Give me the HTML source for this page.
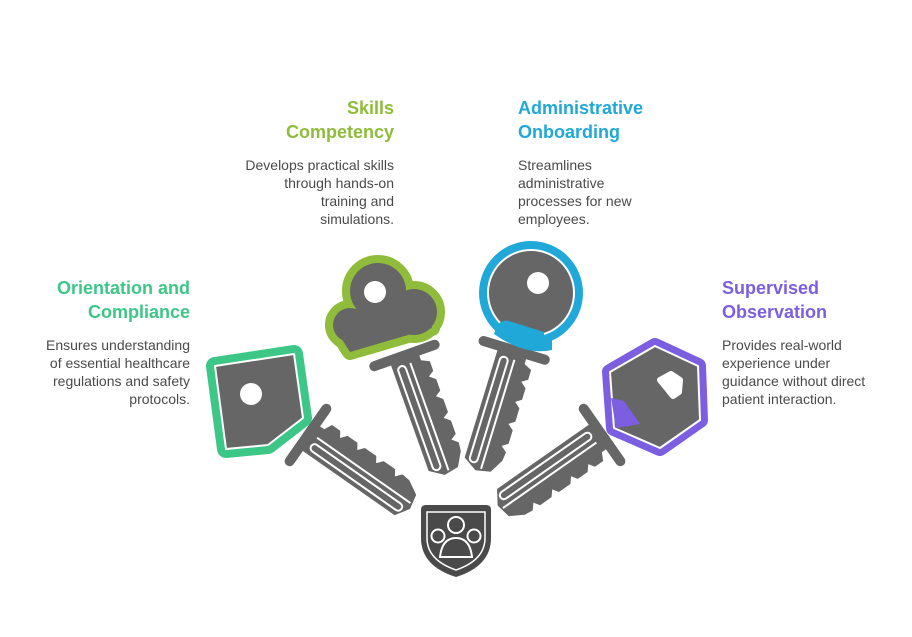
<!DOCTYPE html>
<html><head><meta charset="utf-8"><style>
body{margin:0;background:#fff;}
#c{position:relative;width:912px;height:637px;overflow:hidden;font-family:"Liberation Sans",sans-serif;}
.t{position:absolute;font-weight:bold;font-size:18px;line-height:24px;}
.d{position:absolute;font-size:14px;line-height:18px;color:#4a4a4a;}
.r{text-align:right}
</style></head><body><div id="c">
<div class="t r" style="left:200px;top:96px;width:194px;color:#8fbc3a">Skills<br>Competency</div>
<div class="d r" style="left:200px;top:156px;width:194px">Develops practical skills<br>through hands-on<br>training and<br>simulations.</div>
<div class="t" style="left:518px;top:96px;width:220px;color:#1fa8d8">Administrative<br>Onboarding</div>
<div class="d" style="left:518px;top:156px;width:220px">Streamlines<br>administrative<br>processes for new<br>employees.</div>
<div class="t r" style="left:0px;top:276px;width:190px;color:#3dc787">Orientation and<br>Compliance</div>
<div class="d r" style="left:0px;top:336px;width:190px">Ensures understanding<br>of essential healthcare<br>regulations and safety<br>protocols.</div>
<div class="t" style="left:722px;top:276px;width:190px;color:#7b5fe0">Supervised<br>Observation</div>
<div class="d" style="left:722px;top:336px;width:190px">Provides real-world<br>experience under<br>guidance without direct<br>patient interaction.</div>
<svg width="912" height="637" style="position:absolute;left:0;top:0">
<defs>
<g id="sh">
<rect x="-37" y="56" width="74" height="10" rx="5" fill="#666"/>
<path d="M-16 64 L14 64 L14 71 L22 75 L22 85 L16 89 L22 94 L22 106 L16 110 L22 115 L22 129 L16 133 L22 138 L22 152 L16 156 L22 161 L21 170 L13 184 L-2 187 L-16 178 Z" fill="#666"/>
<rect x="-11" y="70" width="8" height="110" rx="4" fill="none" stroke="#fff" stroke-width="2"/>
<line x1="3" y1="70" x2="3" y2="184" stroke="#fff" stroke-width="2"/>
</g>
</defs>
<use href="#sh" transform="translate(384,298) rotate(-19.6)"/>
<use href="#sh" transform="translate(532,292) rotate(17)"/>
<use href="#sh" transform="translate(258,400) rotate(-55)"/>
<use href="#sh" transform="translate(652,400) rotate(55)"/>
<!-- orientation head -->
<path d="M215 366 L294 354 L303 418 L268 445 L226 449 Z" fill="#3dc787" stroke="#3dc787" stroke-width="18" stroke-linejoin="round"/>
<path d="M215 366 L294 354 L303 418 L268 445 L226 449 Z" fill="#666" stroke="#fff" stroke-width="2" stroke-linejoin="round"/>
<circle cx="251" cy="394" r="11" fill="#fff"/>
<!-- skills head -->
<g fill="#8fbc3a" stroke="#8fbc3a" stroke-width="16" stroke-linejoin="round">
<circle cx="378" cy="291" r="28"/><circle cx="414" cy="312" r="23"/><circle cx="350" cy="325" r="17"/>
<path d="M336 330 L350 352 L432 328 L420 300 L360 305 Z"/>
</g>
<g fill="#666">
<circle cx="378" cy="291" r="28"/><circle cx="414" cy="312" r="23"/><circle cx="350" cy="325" r="17"/>
<path d="M336 330 L350 352 L432 328 L420 300 L360 305 Z"/>
</g>
<circle cx="375" cy="292" r="11" fill="#fff"/>
<!-- admin head -->
<circle cx="531" cy="293" r="52" fill="#1fa8d8"/>
<circle cx="531" cy="293" r="43" fill="#666" stroke="#fff" stroke-width="2"/>
<path d="M497 326 Q502 318 512 322 L544 332 L544 340 L552 340 L552 350 Q525 356 494 334 Z" fill="#1fa8d8"/>
<circle cx="538" cy="283" r="11" fill="#fff"/>
<!-- supervised head -->
<path d="M610 372 L655 346 L698 366 L700 420 L660 448 L614 428 Z" fill="#7b5fe0" stroke="#7b5fe0" stroke-width="16" stroke-linejoin="round"/>
<path d="M610 372 L655 346 L698 366 L700 420 L660 448 L614 428 Z" fill="#666" stroke="#fff" stroke-width="2" stroke-linejoin="round"/>
<path d="M611 398 L624 401 L640 424 L616 428 Z" fill="#7b5fe0"/>
<path d="M660 380 L671 374 L680 380 L679 392 L673 396 Z" fill="#fff" stroke="#fff" stroke-width="6" stroke-linejoin="round"/>
<!-- shield -->
<path d="M421 510 Q421 505 426 505 L486 505 Q491 505 491 510 L491 538 Q491 566 456 577 Q421 566 421 538 Z" fill="#4a4a4a"/>
<path d="M427 512 L485 512 L485 538 Q485 560 456 570 Q427 560 427 538 Z" fill="#4a4a4a" stroke="#fff" stroke-width="1.5"/>
<circle cx="456" cy="525" r="8" fill="#4a4a4a" stroke="#fff" stroke-width="2"/>
<circle cx="438" cy="536" r="6.5" fill="#4a4a4a" stroke="#fff" stroke-width="2"/>
<circle cx="474" cy="536" r="6.5" fill="#4a4a4a" stroke="#fff" stroke-width="2"/>
<path d="M440 557 Q442 538 456 538 Q470 538 472 557 Z" fill="#4a4a4a" stroke="#fff" stroke-width="2"/>
</svg>
</div></body></html>
